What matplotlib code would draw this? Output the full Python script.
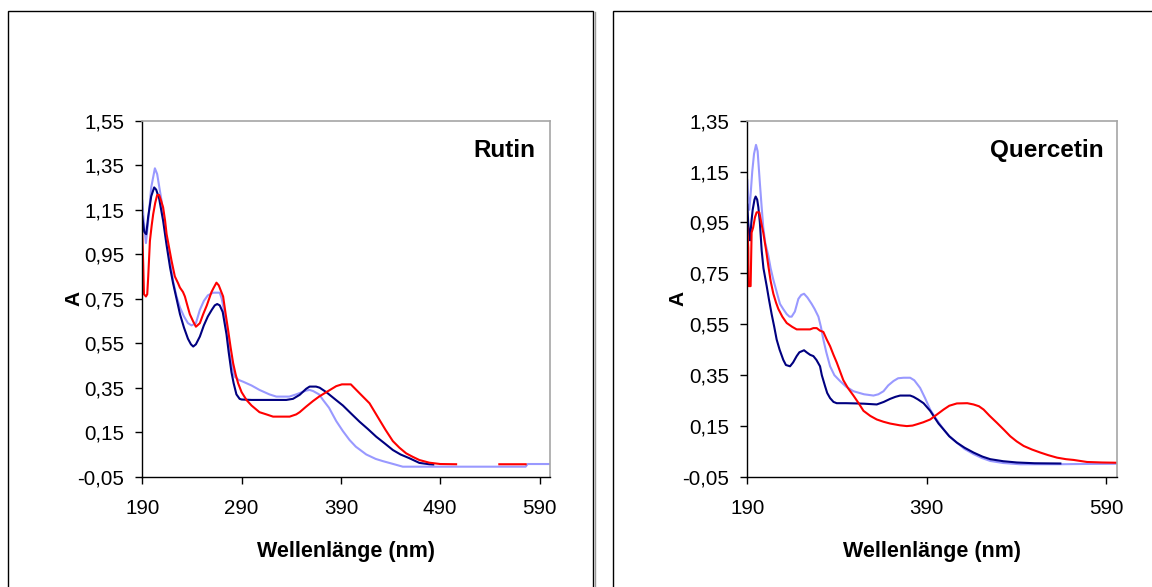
import numpy as np
import matplotlib.pyplot as plt
from matplotlib.patches import Rectangle
from matplotlib.lines import Line2D
from matplotlib.ticker import FuncFormatter

plt.rcParams['font.family'] = ['Liberation Sans', 'DejaVu Sans']

# colours of the three spectra
c_light = '#9999FF'
c_navy = '#000080'
c_red = '#FF0000'

# ---- Rutin (left panel) ----
rutin_light_nm = [190, 191.5, 193.7, 196, 199, 202.7, 205, 209.4, 212, 214.5, 218, 221, 224.5, 228, 232,
                  236, 239.6, 244, 248, 252, 256, 261.4, 268, 270, 273, 276, 278, 281, 283, 287, 291.5,
                  300, 308, 318, 325, 338, 345, 355, 358.5, 362, 368, 372, 378, 385.3, 392, 398.7, 405,
                  415.5, 425, 432.2, 442, 452.3, 576, 578, 600]
rutin_light_a = [1.19, 1.10, 1.00, 1.10, 1.25, 1.336, 1.31, 1.19, 1.10, 1.01, 0.92, 0.83, 0.76, 0.71, 0.67,
                 0.64, 0.63, 0.64, 0.70, 0.74, 0.765, 0.777, 0.777, 0.75, 0.68, 0.60, 0.50, 0.44, 0.40, 0.385, 0.377,
                 0.36, 0.34, 0.32, 0.31, 0.31, 0.32, 0.337, 0.34, 0.335, 0.32, 0.295, 0.26, 0.20, 0.155, 0.115, 0.085,
                 0.05, 0.03, 0.02, 0.008, -0.005, -0.005, 0.007, 0.007]

rutin_navy_nm = [190, 192, 194, 196, 199, 202, 204, 207, 211, 214.5, 218, 221, 225, 228, 232, 236, 239,
                 241.3, 244, 248, 252, 256, 260, 263, 265.4, 268, 271, 274.8, 277, 279.8, 282, 284.8, 288,
                 290, 300, 310, 320, 335, 341.8, 348.5, 355, 358.5, 365, 368.6, 375.3, 385, 392, 400,
                 408.8, 417, 425.5, 434, 442.3, 450, 459, 469, 479, 483]
rutin_navy_a = [1.12, 1.05, 1.04, 1.12, 1.21, 1.25, 1.24, 1.20, 1.10, 0.99, 0.89, 0.82, 0.74, 0.68, 0.62, 0.57, 0.545,
                0.535, 0.545, 0.58, 0.63, 0.67, 0.70, 0.72, 0.726, 0.72, 0.69, 0.59, 0.51, 0.42, 0.37, 0.32, 0.30,
                0.297, 0.295, 0.295, 0.295, 0.295, 0.30, 0.318, 0.345, 0.355, 0.355, 0.35, 0.33, 0.295, 0.27, 0.235,
                0.197, 0.165, 0.13, 0.10, 0.07, 0.05, 0.033, 0.012, 0.006, 0.005]

rutin_red_nm = [190, 191, 191.7, 193.7, 195, 196, 197.7, 199.5, 201, 203, 205, 207, 209, 211, 213, 214.5,
                217, 219.5, 222.8, 226, 227.9, 231, 232.9, 236, 237.9, 241, 244, 248, 251.3, 255, 259.7,
                262, 264.7, 267, 271.4, 274, 276.4, 279, 281.5, 284, 286.5, 290, 294.9, 300, 308, 315,
                321.7, 338.4, 345, 348.5, 355, 361.9, 368, 375.3, 385.3, 391, 400, 408.8, 418.8, 428.9,
                435, 442.3, 449, 455.7, 462, 469, 479, 490, 506, np.nan, 549.5, 576]
rutin_red_a = [1.04, 0.90, 0.77, 0.76, 0.77, 0.85, 1.01, 1.08, 1.13, 1.18, 1.216, 1.216, 1.19, 1.16, 1.10, 1.04,
               0.98, 0.92, 0.85, 0.82, 0.80, 0.78, 0.76, 0.71, 0.68, 0.65, 0.624, 0.64, 0.68, 0.72, 0.78,
               0.80, 0.822, 0.81, 0.76, 0.68, 0.61, 0.53, 0.46, 0.41, 0.37, 0.33, 0.295, 0.27, 0.24, 0.23,
               0.22, 0.22, 0.23, 0.24, 0.265, 0.29, 0.31, 0.33, 0.357, 0.365, 0.365, 0.325, 0.28, 0.205,
               0.16, 0.11, 0.08, 0.055, 0.04, 0.025, 0.013, 0.007, 0.006, np.nan, 0.006, 0.006]

# ---- Quercetin (right panel) ----
querc_light_nm = [190, 191, 192.2, 193.5, 195.5, 197.5, 199.7, 201.5, 204.1, 206, 207.8, 210, 213.4, 216, 219,
                  222.5, 226.4, 230, 233.9, 237, 239.4, 243, 246.9, 250, 253.2, 257, 261.7, 265, 269.2, 272,
                  274.7, 278, 282.2, 287, 293.3, 300, 308.2, 320, 330.5, 336, 341.7, 347, 352.8, 358, 364,
                  371.4, 376, 382.5, 388, 393.7, 400, 408.6, 415, 423.4, 432, 442, 451, 460.6, 475, 494,
                  535, 560, 602]
querc_light_a = [1.117, 1.05, 1.00, 1.05, 1.15, 1.22, 1.255, 1.23, 1.10, 1.01, 0.93, 0.87, 0.82, 0.77, 0.725,
                 0.68, 0.63, 0.61, 0.59, 0.58, 0.58, 0.60, 0.65, 0.665, 0.67, 0.655, 0.63, 0.61, 0.58, 0.54,
                 0.49, 0.44, 0.385, 0.35, 0.327, 0.305, 0.287, 0.275, 0.27, 0.275, 0.287, 0.31, 0.327, 0.338, 0.34,
                 0.34, 0.33, 0.30, 0.26, 0.215, 0.18, 0.137, 0.11, 0.085, 0.06, 0.04, 0.025, 0.013, 0.005, 0.0,
                 0.0, 0.001, 0.002]

querc_navy_nm = [190, 191, 192.2, 193, 194.5, 196, 198, 199.3, 201, 202.3, 204, 206, 208, 211.6, 214, 217.1,
                 220, 222.7, 226, 230.1, 233, 237.6, 241, 245, 248, 253.2, 256, 260, 263.6, 267, 271, 273,
                 276.6, 279, 282.2, 286, 289.6, 300, 311.9, 320, 334.2, 342, 349.1, 355, 360.2, 371.4, 375.1,
                 380, 386.3, 393.7, 397.4, 403, 408.6, 415, 423.4, 432, 442, 452, 460.6, 475, 490.3, 510, 538.7]
querc_navy_a = [1.02, 0.95, 0.90, 0.88, 0.95, 1.00, 1.04, 1.052, 1.04, 1.01, 0.95, 0.84, 0.77, 0.70, 0.65, 0.59,
                0.54, 0.49, 0.45, 0.41, 0.39, 0.385, 0.40, 0.425, 0.44, 0.448, 0.44, 0.43, 0.425, 0.41, 0.385, 0.35,
                0.307, 0.28, 0.26, 0.245, 0.24, 0.24, 0.239, 0.238, 0.235, 0.245, 0.257, 0.265, 0.27, 0.27, 0.265,
                0.255, 0.24, 0.21, 0.19, 0.16, 0.137, 0.11, 0.085, 0.065, 0.046, 0.03, 0.02, 0.012, 0.007, 0.004, 0.003]

querc_red_nm = [190, 191.1, 191.5, 193.7, 194.8, 196.5, 198.5, 200.4, 203.4, 205.5, 207.8, 211, 213.4, 216,
                219, 222, 224.6, 229, 233.9, 240, 245, 259.9, 263.6, 267.3, 271, 274.7, 278.5, 282.2, 286,
                289.6, 297, 302, 308.2, 314, 319.4, 327, 334.2, 341.7, 349.1, 360, 367.7, 374, 378.8, 386,
                393.7, 401, 408.6, 415, 423.4, 435, 442, 448, 453.2, 460, 468, 476, 482.9, 490, 497.8, 507,
                516.4, 525, 535, 545, 553.5, 568.4, 585, 602]
querc_red_a = [0.93, 0.85, 0.70, 0.70, 0.91, 0.93, 0.97, 0.99, 0.99, 0.95, 0.91, 0.84, 0.78, 0.72,
               0.67, 0.635, 0.61, 0.58, 0.555, 0.54, 0.53, 0.53, 0.535, 0.535, 0.525, 0.52, 0.49, 0.464, 0.43,
               0.40, 0.33, 0.30, 0.27, 0.24, 0.21, 0.19, 0.176, 0.167, 0.16, 0.153, 0.15, 0.152, 0.157, 0.165,
               0.176, 0.195, 0.215, 0.23, 0.239, 0.24, 0.235, 0.228, 0.215, 0.19, 0.163, 0.135, 0.11, 0.09, 0.072,
               0.058, 0.046, 0.036, 0.026, 0.02, 0.017, 0.009, 0.007, 0.006]

rutin_yticks = [-0.05, 0.15, 0.35, 0.55, 0.75, 0.95, 1.15, 1.35, 1.55]
rutin_xticks = [190, 290, 390, 490, 590]
querc_yticks = [-0.05, 0.15, 0.35, 0.55, 0.75, 0.95, 1.15, 1.35]
querc_xticks = [190, 390, 590]

fig = plt.figure(figsize=(11.52, 5.87), dpi=100)

# outer chart frames
fig.add_artist(Rectangle((8 / 1152, -0.05), 584.5 / 1152, 1.05 - 10.5 / 587,
                         transform=fig.transFigure, fill=False, ec='black', lw=1.0))
fig.add_artist(Line2D([594.5 / 1152, 594.5 / 1152], [0, 1 - 12 / 587],
                      transform=fig.transFigure, color='#999999', lw=1.0))
fig.add_artist(Rectangle((612.5 / 1152, -0.05), 0.6, 1.05 - 10.5 / 587,
                         transform=fig.transFigure, fill=False, ec='black', lw=1.0))

comma = FuncFormatter(lambda v, p: f'{v:.2f}'.replace('.', ','))


def style(ax, xticks, yticks, ylim, title, ylab_x):
    ax.set_xlim(190, 600.5)
    ax.set_ylim(*ylim)
    ax.set_xticks(xticks)
    ax.set_yticks(yticks)
    ax.yaxis.set_major_formatter(comma)
    ax.tick_params(direction='out', length=5, width=1, labelsize=14.8, color='black')
    ax.tick_params(axis='x', pad=11.5, length=4.7)
    ax.tick_params(axis='y', pad=8)
    for s in ['top', 'right']:
        ax.spines[s].set_color('#a6a6a6')
        ax.spines[s].set_linewidth(1.2)
    for s in ['left', 'bottom']:
        ax.spines[s].set_color('black')
        ax.spines[s].set_linewidth(1.0)
    ax.set_xlabel('Wellenlänge (nm)', fontsize=15.5, fontweight='bold')
    ax.xaxis.set_label_coords(0.5, -0.2256)
    ax.xaxis.label.set_va('baseline')
    ax.set_ylabel('A', fontsize=15, fontweight='bold')
    ax.yaxis.set_label_coords(ylab_x, 0.5)
    ax.yaxis.label.set_va('center')
    ax.text(0.965, 0.915, title, transform=ax.transAxes, ha='right', va='center',
            fontsize=17.5, fontweight='bold')


ax1 = fig.add_axes([0.1235, 0.1879, 0.4774 - 0.1235, 0.7944 - 0.1879])
ax1.plot(rutin_light_nm, rutin_light_a, color=c_light, lw=1.5)
ax1.plot(rutin_navy_nm, rutin_navy_a, color=c_navy, lw=1.5)
ax1.plot(rutin_red_nm, rutin_red_a, color=c_red, lw=1.5)
style(ax1, rutin_xticks, rutin_yticks, (-0.05, 1.55), 'Rutin', -0.1675)

ax2 = fig.add_axes([0.6487, 0.1874, 0.9694 - 0.6487, 0.7944 - 0.1874])
ax2.plot(querc_light_nm, querc_light_a, color=c_light, lw=1.5)
ax2.plot(querc_navy_nm, querc_navy_a, color=c_navy, lw=1.5)
ax2.plot(querc_red_nm, querc_red_a, color=c_red, lw=1.5)
style(ax2, querc_xticks, querc_yticks, (-0.05, 1.35), 'Quercetin', -0.1876)
ax2.set_xlim(190, 601.5)

fig.savefig('out.png', dpi=100)
